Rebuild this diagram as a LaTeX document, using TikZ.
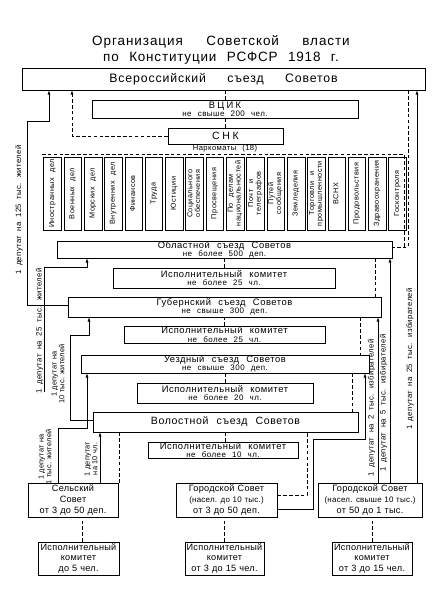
\documentclass[tikz,border=0pt]{standalone}
\usepackage{fontspec}
\setmainfont{Liberation Sans}[LetterSpace=6, WordSpace=2.3]
\newfontfamily\widefont{Liberation Sans}[LetterSpace=7, WordSpace=3.8]
\newfontfamily\titlefont{Liberation Sans}[LetterSpace=7, WordSpace=5]
\newfontfamily\spacedfont{Liberation Sans}[LetterSpace=25]
\newfontfamily\tightfont{Liberation Sans}[LetterSpace=3, WordSpace=1.1]
\newfontfamily\labelfont{Liberation Sans}[LetterSpace=5, WordSpace=1.8]
\usetikzlibrary{arrows.meta}

\newcommand\smalltxt[1]{{\fontsize{6.8}{7}\selectfont #1}}

\begin{document}
\begin{tikzpicture}[x=0.03cm, y=-0.03cm, font=\fontsize{8}{7}\selectfont,
    box/.style={draw, line width=0.7pt, inner sep=0pt, align=center},
    sovet/.style={box, font=\tightfont\fontsize{7.8}{9}\selectfont},
    dsh/.style={dash pattern=on 3pt off 2pt, line width=0.5pt},
    dep/.style={-{Latex[length=3.5pt,width=2.6pt]}, line width=0.5pt},
    lbl/.style={rotate=90, font=\labelfont\fontsize{6.6}{6.8}\selectfont, align=center, inner sep=0pt},
    lbls/.style={lbl, font=\tightfont\fontsize{6.3}{6.6}\selectfont},
    nk/.style={box, line width=0.6pt, minimum width=0.53cm, minimum height=2.19cm,
      font=\fontsize{6.2}{6.6}\selectfont}]

  \useasboundingbox (0,0) rectangle (443,589);

  % заголовок
  \node[font=\fontsize{11.5}{13.8}\selectfont, align=center]
    (title) at (221,50) {{\titlefont Организация Советской власти}\\по Конституции РСФСР 1918 г.};

  % центральные органы
  \node[box, minimum width=12.09cm, minimum height=0.66cm,
    font=\widefont\fontsize{10.5}{11}\selectfont]
    (congress) at (223.5,79) {Всероссийский съезд Советов};
  \node[box, minimum width=7.98cm, minimum height=0.54cm] (vcik) at (225,109)
    {{\spacedfont ВЦИК}\\\smalltxt{не свыше 200 чел.}};
  \node[box, minimum width=3.45cm, minimum height=0.48cm,
    font=\spacedfont\fontsize{9}{9}\selectfont]
    (snk) at (225.5,136) {СНК};
  \node[font=\fontsize{6.5}{7}\selectfont, inner sep=0pt] (nkname) at (225,149) {Наркоматы (18)};

  % наркоматы
  \foreach \name [count=\i] in {Иностранных дел, Военных дел, Морских дел, Внутренних дел,
      Финансов, Труда, Юстиции, {Социального\\обеспечения}, Просвещения,
      {По делам\\национальностей}, {Почт и\\телеграфов}, {Путей\\сообщения}, Земледелия,
      {Торговли и\\промышленности}, ВСНХ, Продовольствия, Здравоохранения, Госконтроля}
    \node[nk] (nk\i) at ({52.5+20.3*(\i-1)},193.5) {\rotatebox{90}{\begin{tabular}{@{}c@{}}\name\end{tabular}}};
  \draw[dsh] (42,154) -- (404,154) -- (404,247);

  % местные съезды и исполкомы
  \node[box, minimum width=10.05cm, minimum height=0.51cm] (oblast) at (224.5,249.5)
    {Областной съезд Советов\\\smalltxt{не более 500 деп.}};
  \node[box, minimum width=6.66cm, minimum height=0.6cm] (oblexec) at (224,278)
    {Исполнительный комитет\\\smalltxt{не более 25 чл.}};
  \node[box, minimum width=9.39cm, minimum height=0.6cm] (gub) at (224.5,307)
    {Губернский съезд Советов\\\smalltxt{не свыше 300 деп.}};
  \node[box, minimum width=6.03cm, minimum height=0.51cm] (gubexec) at (224.5,334.5)
    {Исполнительный комитет\\\smalltxt{не более 25 чл.}};
  \node[box, minimum width=8.64cm, minimum height=0.54cm] (uezd) at (225,364)
    {Уездный съезд Советов\\\smalltxt{не свыше 300 деп.}};
  \node[box, minimum width=5.28cm, minimum height=0.6cm] (uezdexec) at (225,393)
    {Исполнительный комитет\\\smalltxt{не более 20 чл.}};
  \node[box, minimum width=7.95cm, minimum height=0.6cm, font=\fontsize{9}{9}\selectfont]
    (volost) at (225.5,422) {Волостной съезд Советов};
  \node[box, minimum width=4.5cm, minimum height=0.48cm] (volexec) at (223,450)
    {Исполнительный комитет\\\smalltxt{не более 10 чл.}};

  % Советы
  \node[sovet, minimum width=2.7cm, minimum height=1.02cm]
    (selsky) at (73,500) {Сельский\\Совет\\от 3 до 50 деп.};
  \node[sovet, minimum width=3.03cm, minimum height=1.02cm]
    (gorod1) at (226.5,500) {Городской Совет\\\smalltxt{(насел. до 10 тыс.)}\\от 3 до 50 деп.};
  \node[sovet, minimum width=3.12cm, minimum height=1.02cm]
    (gorod2) at (370,500) {Городской Совет\\\smalltxt{(насел. свыше 10 тыс.)}\\от 50 до 1 тыс.};
  \node[sovet, minimum width=2.43cm, minimum height=0.99cm]
    (selexec) at (78.5,558.5) {Исполнительный\\комитет\\до 5 чел.};
  \node[sovet, minimum width=2.37cm, minimum height=0.99cm]
    (gor1exec) at (224.5,558.5) {Исполнительный\\комитет\\от 3 до 15 чел.};
  \node[sovet, minimum width=2.4cm, minimum height=0.99cm]
    (gor2exec) at (372,558.5) {Исполнительный\\комитет\\от 3 до 15 чел.};

  % пунктир: подчинение
  \draw[dsh] (vcik.north) -- (vcik.north |- congress.south);
  \draw[dsh] (snk.north -| vcik.south) -- (vcik.south);
  \coordinate (s1) at (72,0);
  \draw[dsh, dep] (snk.west) -| (s1 |- congress.south);
  \coordinate (r1) at (408,247);
  \draw[dsh] (r1 |- congress.south) -- (r1) -- (r1 -| oblast.east);
  \draw[dsh] (oblexec.north) -- (oblexec.north |- oblast.south);
  \draw[dsh] (gubexec.north) -- (gubexec.north |- gub.south);
  \draw[dsh] (uezdexec.north) -- (uezdexec.north |- uezd.south);
  \draw[dsh] (volexec.north -| volost.south) -- (volost.south);
  \coordinate (d1) at (375,0);
  \coordinate (d2) at (360,0);
  \coordinate (d3) at (352,0);
  \coordinate (d4) at (119,0);
  \coordinate (d5) at (82,0);
  \draw[dsh] (d1 |- oblast.south) -- (d1 |- gub.north);
  \draw[dsh] (d2 |- gub.south) -- (d2 |- uezd.north);
  \draw[dsh] (d3 |- uezd.south) -- (d3 |- volost.north);
  \draw[dsh] (d4 |- volost.south) -- (d4 |- selsky.north);
  \coordinate (g1) at (307,495);
  \draw[dsh] (g1 -| gorod1.east) -- (g1) -- (g1 |- volost.south);
  \draw[dsh] (d5 |- selexec.north) -- (d5 |- selsky.south);
  \draw[dsh] (gor1exec.north) -- (gor1exec.north |- gorod1.south);
  \draw[dsh] (gor2exec.north) -- (gor2exec.north |- gorod2.south);

  % выборы делегатов
  \coordinate (a0) at (27,305);
  \coordinate (a1) at (27,121);
  \coordinate (a2) at (49,121);
  \draw[dep] (a0 -| gub.west) -- (a0) -- (a1) -- (a2) -- (a2 |- congress.south);
  \coordinate (b0) at (44,392);
  \coordinate (b1) at (44,267);
  \coordinate (b2) at (87,267);
  \draw[dep] (b0) -- (b1) -- (b2) -- (b2 |- oblast.south);
  \coordinate (c0) at (70,420);
  \coordinate (c1) at (70,335);
  \coordinate (c2) at (89,335);
  \draw[dep] (c0 -| volost.west) -- (c0) -- (c1) -- (c2) -- (c2 |- gub.south);
  \coordinate (e1) at (58,428);
  \coordinate (e2) at (87,428);
  \draw[dep] (selsky.north -| e1) -- (e1) -- (e2) -- (e2 |- uezd.south);
  \coordinate (e3) at (100,0);
  \draw[dep] (selsky.north -| e3) -- (volost.south -| e3);
  \coordinate (f1) at (313,509);
  \coordinate (f2) at (365,439);
  \draw[dep] (f1 -| gorod1.east) -- (f1) |- (f2) -- (f2 |- uezd.south);
  \coordinate (h1) at (378,0);
  \coordinate (h2) at (390,0);
  \coordinate (h3) at (417,0);
  \draw[dep] (gorod2.north -| h1) -- (h1 |- gub.south);
  \draw[dep] (gorod2.north -| h2) -- (h2 |- oblast.south);
  \draw[dep] (gorod2.north -| h3) -- (h3 |- congress.south);

  % подписи
  \node[lbl] (l125) at (19,210) {1 депутат на 125 тыс. жителей};
  \node[lbl] (l25) at (39.5,331) {1 депутат на 25 тыс. жителей};
  \node[lbls] (l10) at (58,374) {1 депутат на\\10 тыс. жителей};
  \node[lbls] (l1) at (45,457) {1 депутат на\\1 тыс. жителей};
  \node[lbls] (l10ch) at (91,459) {1 депутат\\на 10 чл.};
  \node[lbl] (l2) at (371.5,408) {1 депутат на 2 тыс. избирателей};
  \node[lbl] (l5) at (383.5,403) {1 депутат на 5 тыс. избирателей};
  \node[lbl] (l25i) at (410,359) {1 депутат на 25 тыс. избирателей};

\end{tikzpicture}
\end{document}
